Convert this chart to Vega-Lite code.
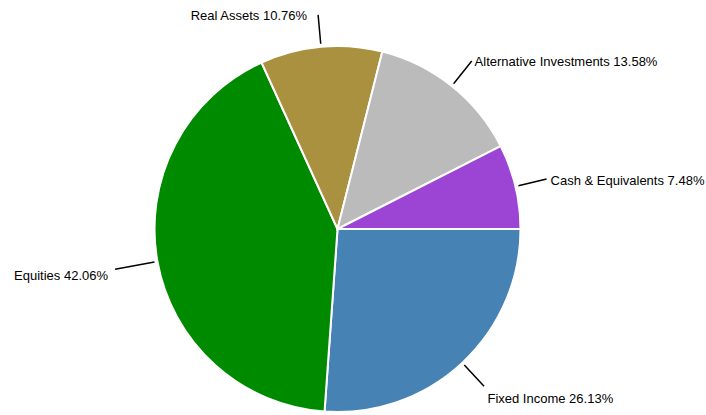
{
  "$schema": "https://vega.github.io/schema/vega-lite/v6.json",
  "width": 675,
  "height": 370,
  "autosize": "none",
  "padding": {"left": 0, "top": 44, "right": 31, "bottom": 1},
  "background": "white",
  "config": {"view": {"stroke": null}, "text": {"font": "Liberation Sans, Arial, sans-serif", "fontSize": 13, "color": "black"}},
  "data": {
    "values": [
      {"category": "Fixed Income", "value": 26.13, "label": "Fixed Income 26.13%"},
      {"category": "Equities", "value": 42.06, "label": "Equities 42.06%"},
      {"category": "Real Assets", "value": 10.76, "label": "Real Assets 10.76%"},
      {"category": "Alternative Investments", "value": 13.58, "label": "Alternative Investments 13.58%"},
      {"category": "Cash & Equivalents", "value": 7.48, "label": "Cash & Equivalents 7.48%"}
    ]
  },
  "transform": [{"window": [{"op": "row_number", "as": "idx"}]}],
  "encoding": {
    "theta": {
      "field": "value",
      "type": "quantitative",
      "stack": true,
      "scale": {"range": [1.5707963, 7.8539816]}
    },
    "order": {"field": "idx", "type": "quantitative"},
    "detail": {"field": "category", "type": "nominal"}
  },
  "layer": [
    {
      "mark": {"type": "arc", "outerRadius": 183, "stroke": "white", "strokeWidth": 2},
      "encoding": {
        "color": {
          "field": "category",
          "type": "nominal",
          "legend": null,
          "scale": {
            "domain": ["Fixed Income", "Equities", "Real Assets", "Alternative Investments", "Cash & Equivalents"],
            "range": ["#4682b4", "#008a00", "#aa9140", "#bbbbbb", "#9c44d4"]
          }
        }
      }
    },
    {
      "mark": {"type": "arc", "innerRadius": 186, "outerRadius": 215, "padAngle": 3, "fill": null, "stroke": "black", "strokeWidth": 1.5},
      "encoding": {
        "strokeOpacity": {"condition": {"test": "datum.category == 'Equities'", "value": 0}, "value": 1}
      }
    },
    {
      "mark": {"type": "arc", "innerRadius": 186, "outerRadius": 226, "padAngle": 3, "fill": null, "stroke": "black", "strokeWidth": 1.5},
      "encoding": {
        "strokeOpacity": {"condition": {"test": "datum.category == 'Equities'", "value": 1}, "value": 0}
      }
    },
    {
      "mark": {"type": "text", "radius": 218, "align": "left", "baseline": "middle", "dx": 1, "dy": 3},
      "encoding": {
        "text": {
          "condition": {"test": "datum.category == 'Alternative Investments' || datum.category == 'Cash & Equivalents'", "field": "label", "type": "nominal"},
          "value": ""
        }
      }
    },
    {
      "mark": {"type": "text", "radius": 220, "align": "left", "baseline": "middle", "dy": 9},
      "encoding": {
        "text": {
          "condition": {"test": "datum.category == 'Fixed Income'", "field": "label", "type": "nominal"},
          "value": ""
        }
      }
    },
    {
      "mark": {"type": "text", "radius": 216, "align": "right", "baseline": "middle", "dx": -11, "dy": 2},
      "encoding": {
        "text": {
          "condition": {"test": "datum.category == 'Real Assets'", "field": "label", "type": "nominal"},
          "value": ""
        }
      }
    },
    {
      "mark": {"type": "text", "radius": 222, "align": "right", "baseline": "middle", "dx": -11, "dy": 8},
      "encoding": {
        "text": {
          "condition": {"test": "datum.category == 'Equities'", "field": "label", "type": "nominal"},
          "value": ""
        }
      }
    }
  ]
}
